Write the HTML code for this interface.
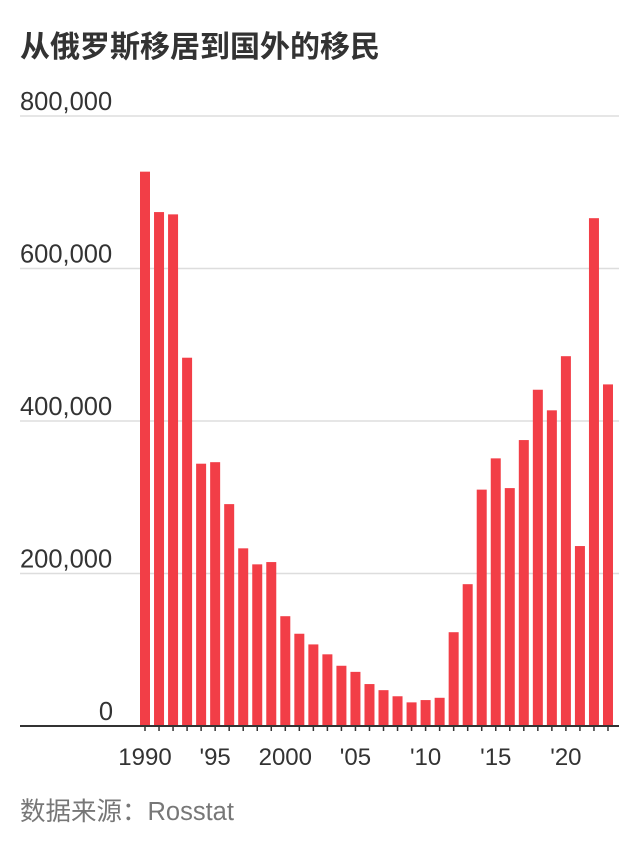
<!DOCTYPE html>
<html><head><meta charset="utf-8"><style>
body{margin:0;background:#fff;width:639px;height:852px;overflow:hidden;font-family:"Liberation Sans","Noto Sans CJK SC",sans-serif}
</style></head><body>
<svg width="639" height="852">
<text x="20" y="57" font-size="30" font-weight="bold" fill="#333" font-family="Liberation Sans, Noto Sans CJK SC, sans-serif">从俄罗斯移居到国外的移民</text>
<g id="grid"></g><g id="bars"></g><g id="xax"></g>
<text x="20" y="820" font-size="25.5" fill="#777" font-family="Liberation Sans, Noto Sans CJK SC, sans-serif">数据来源：Rosstat</text>
</svg>
<script>
const years=[1990,1991,1992,1993,1994,1995,1996,1997,1998,1999,2000,2001,2002,2003,2004,2005,2006,2007,2008,2009,2010,2011,2012,2013,2014,2015,2016,2017,2018,2019,2020,2021,2022,2023];
const values=[727000,674000,671000,483000,344000,346000,291000,233000,212000,215000,144000,121000,107000,94000,79000,71000,55000,47000,39000,31000,34000,37000,123000,186000,310000,351000,312000,375000,441000,414000,485000,236000,666000,448000];
const yTicks=[0,200000,400000,600000,800000];
const yTickLabels=["0","200,000","400,000","600,000","800,000"];
const xLabelYears=[1990,1995,2000,2005,2010,2015,2020];
const xLabels=["1990","'95","2000","'05","'10","'15","'20"];
const NS="http://www.w3.org/2000/svg";
const y=v=>726-v/800000*610;
const x=yr=>145+(yr-1990)*14.03;
function mk(tag,attrs,parent,txt){const e=document.createElementNS(NS,tag);for(const k in attrs)e.setAttribute(k,attrs[k]);if(txt!=null)e.textContent=txt;document.getElementById(parent).appendChild(e);return e;}
yTicks.forEach((t,i)=>{
  if(t>0){const l=mk('line',{x1:20,x2:619,y1:y(t),y2:y(t),stroke:'#ddd','stroke-width':1.5},'grid');
  
  }
  const tx=mk('text',{x:t===0?113:20,y:y(t)-6,'font-size':25.5,fill:'#333','text-anchor':t===0?'end':'start'},'grid',yTickLabels[i]);
  
  
});
years.forEach((yr,i)=>{
  const r=mk('rect',{x:x(yr)-5,y:y(values[i]),width:10,height:726-y(values[i]),fill:'#f23e47'},'bars');
  
  
  const tk=mk('line',{x1:x(yr),x2:x(yr),y1:726,y2:731,stroke:'#333','stroke-width':1.5},'xax');
  
  
});
const ax=mk('line',{x1:20,x2:619,y1:726,y2:726,stroke:'#333','stroke-width':2},'xax');


xLabelYears.forEach((yr,i)=>{
  const t=mk('text',{x:x(yr),y:765,'font-size':24,fill:'#333','text-anchor':'middle'},'xax',xLabels[i]);
  
  
});
</script>
</body></html>
